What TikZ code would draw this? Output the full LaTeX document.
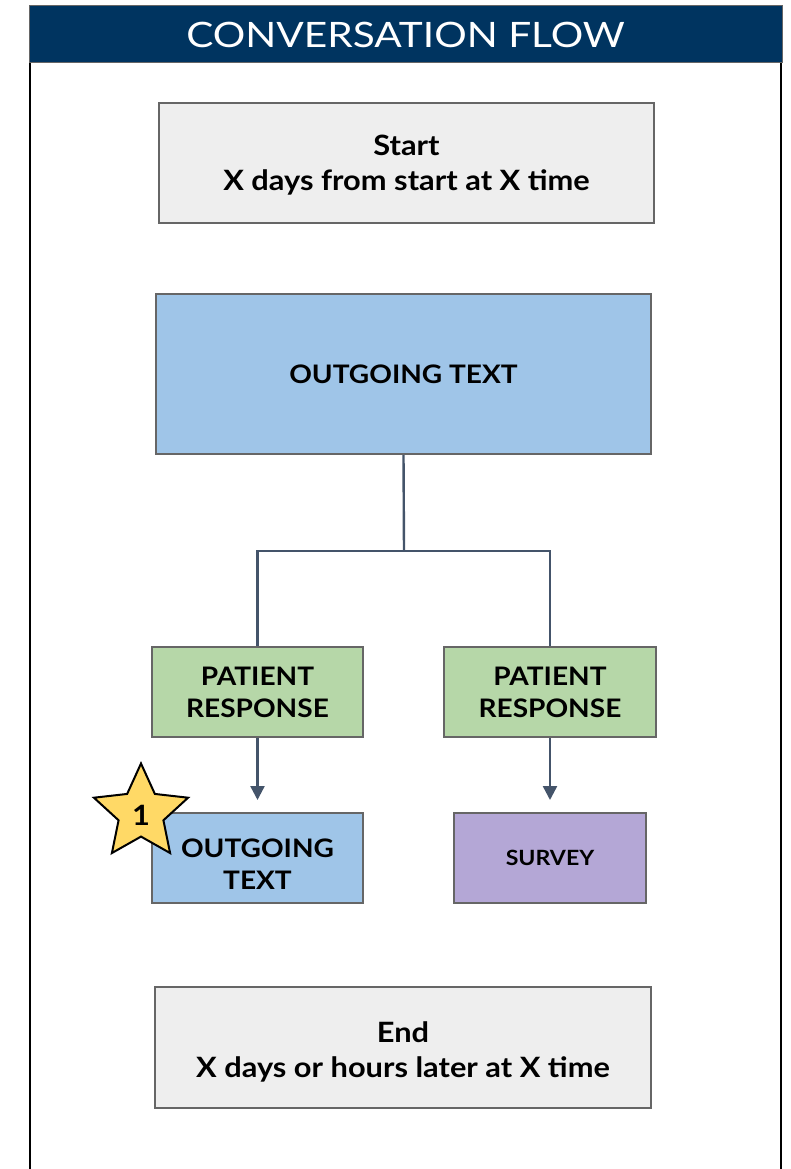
\documentclass[tikz,border=0pt]{standalone}
\usepackage{fontspec}
\setmainfont[FakeStretch=1.1]{Lato}
\newfontfamily\titlefont[FakeStretch=1.16]{Lato}
\usetikzlibrary{arrows.meta,shapes.geometric}
\definecolor{navy}{RGB}{0,52,96}
\definecolor{boxgray}{RGB}{238,238,238}
\definecolor{boxblue}{RGB}{159,197,232}
\definecolor{boxgreen}{RGB}{182,215,168}
\definecolor{boxpurple}{RGB}{180,167,214}
\definecolor{edgegray}{RGB}{102,102,102}
\definecolor{slate}{RGB}{68,84,106}
\definecolor{staryellow}{RGB}{255,217,102}
\tikzset{
  flowbox/.style={draw=edgegray, line width=2pt, inner sep=0pt, align=center},
  boxtext/.style={inner sep=0pt, align=center},
  conn/.style={draw=slate, line width=2.4pt},
  arr/.style={conn, -{Triangle[width=14pt,length=14pt]}},
}
\begin{document}
\begin{tikzpicture}[x=1pt,y=-1pt]
\useasboundingbox (0,0) rectangle (790,1169);
% frame
\draw[black, line width=2.5pt] (30,62) -- (30,1175);
\draw[black, line width=2.5pt] (781,62) -- (781,1175);
\node[fill=navy, draw=edgegray, line width=1pt, minimum width=753pt, minimum height=57pt, inner sep=0pt, text=white,
  font=\titlefont\fontsize{35}{35}\selectfont] (title) at (405.5,34.5) {CONVERSATION FLOW};
% boxes
\node[flowbox, fill=boxgray, minimum width=495pt, minimum height=120pt] (start) at (406.5,163) {};
\node[boxtext, font=\bfseries\fontsize{28}{35}\selectfont] (startt) at ([yshift=-2pt]start.center) {Start\\X days from start at X time};
\node[flowbox, fill=boxblue, minimum width=495pt, minimum height=160pt, font=\bfseries\fontsize{25.5}{30}\selectfont]
  (out1) at (403.5,374) {OUTGOING TEXT};
\node[flowbox, fill=boxgreen, minimum width=211pt, minimum height=90pt, font=\bfseries\fontsize{25.5}{32}\selectfont]
  (pr1) at (257.5,692) {PATIENT\\RESPONSE};
\node[flowbox, fill=boxgreen, minimum width=212pt, minimum height=90pt, font=\bfseries\fontsize{25.5}{32}\selectfont]
  (pr2) at (550,692) {PATIENT\\RESPONSE};
\node[flowbox, fill=boxblue, minimum width=211pt, minimum height=90pt] (out2) at (257.5,858) {};
\node[boxtext, font=\bfseries\fontsize{25.5}{32}\selectfont] (out2t) at ([yshift=-6pt]out2.center) {OUTGOING\\TEXT};
\node[flowbox, fill=boxpurple, minimum width=192pt, minimum height=90pt, font=\bfseries\fontsize{21}{24}\selectfont]
  (survey) at (550,858) {SURVEY};
\node[flowbox, fill=boxgray, minimum width=496pt, minimum height=121pt] (end) at (403,1047.5) {};
\node[boxtext, font=\bfseries\fontsize{28}{35}\selectfont] (endt) at ([yshift=-4pt]end.center) {End\\X days or hours later at X time};
% connectors
\coordinate (split) at (404,551);
\draw[conn] (out1.south) -- (split);
\draw[conn] (pr1.north) |- (split) -| (pr2.north);
\draw[arr] (pr1.south) -- ([yshift=12pt]out2.north);
\draw[arr] (pr2.south) -- ([yshift=12pt]survey.north);
% star
\node[star, star points=5, star point ratio=2.1, minimum size=99pt, inner sep=0pt, fill=staryellow, draw=black, line width=2pt]
  (star1) at (141,813) {};
\node[font=\bfseries\fontsize{28}{28}\selectfont] (starnum) at (141,815) {1};
\end{tikzpicture}
\end{document}
